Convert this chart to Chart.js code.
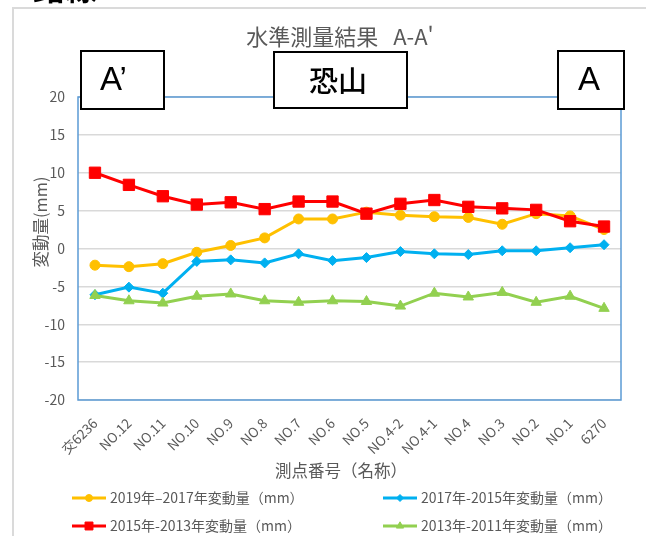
<!DOCTYPE html>
<html lang="ja">
<head>
<meta charset="UTF-8">
<title>水準測量結果 A-A'</title>
<script src="https://cdn.jsdelivr.net/npm/chart.js"></script>
<style>
  body { margin: 0; background: #fff; }
  #wrap { position: relative; width: 646px; height: 536px; overflow: hidden; }
  #frame { position: absolute; left: 12px; top: 7px; width: 700px; height: 600px; border: 2px solid #dadada; }
  #box { position: absolute; left: 0; top: 0; width: 646px; height: 536px; }
</style>
</head>
<body>
<div id="wrap">
  <div id="frame"></div>
  <div id="box"><canvas id="chart"></canvas></div>
</div>
<script>
// 測点 (A' → A)
const stations = ['交6236', 'NO.12', 'NO.11', 'NO.10', 'NO.9', 'NO.8', 'NO.7', 'NO.6',
  'NO.5', 'NO.4-2', 'NO.4-1', 'NO.4', 'NO.3', 'NO.2', 'NO.1', '6270'];

// 変動量 (mm)
const diff2019_2017 = [-2.2, -2.4, -2.0, -0.5, 0.4, 1.4, 3.9, 3.9, 4.8, 4.4, 4.2, 4.1, 3.2, 4.6, 4.3, 2.5];
const diff2017_2015 = [-6.1, -5.1, -5.9, -1.7, -1.5, -1.9, -0.7, -1.6, -1.2, -0.4, -0.7, -0.8, -0.3, -0.3, 0.1, 0.5];
const diff2015_2013 = [10.0, 8.4, 6.9, 5.8, 6.1, 5.2, 6.2, 6.2, 4.6, 5.9, 6.4, 5.5, 5.3, 5.1, 3.6, 2.9];
const diff2013_2011 = [-6.2, -6.9, -7.2, -6.3, -6.0, -6.9, -7.1, -6.9, -7.0, -7.6, -5.9, -6.4, -5.8, -7.1, -6.3, -7.9];

const seriesNames = [
  '2019年–2017年変動量（mm）',
  '2017年-2015年変動量（mm）',
  '2015年-2013年変動量（mm）',
  '2013年-2011年変動量（mm）'
];

const yMin = -20, yMax = 20, yStep = 5;

const chartTitle = '水準測量結果   A-A\'';
const xTitle = '測点番号（名称）';
const yTitle = '変動量(mm)';
const headText = '路線';
const placeBoxes = [
  { text: 'A’', x: 81, y: 51, w: 83, h: 58, tx: 100, font: '33px "Liberation Sans"' },
  { text: '恐山', x: 274, y: 52, w: 133, h: 56, tx: 309, font: '500 29px "Noto Sans CJK JP"' },
  { text: 'A', x: 558, y: 51, w: 66, h: 58, tx: 578, font: '33px "Liberation Sans"' }
];

const CJK = '"Noto Sans CJK JP", sans-serif';
const GREY = '#595959';

function series(label, data, color, style, radius, order) {
  return {
    label, data, order,
    borderColor: color,
    backgroundColor: color,
    borderWidth: 3,
    tension: 0,
    pointStyle: style,
    pointRadius: radius,
    pointHoverRadius: radius,
    pointBorderWidth: 1,
    pointBackgroundColor: color,
    pointBorderColor: color
  };
}

// titles, legend and the place-name boxes
const decor = {
  id: 'decor',
  beforeDatasetsDraw(chart) {
    const { ctx, chartArea: a } = chart;
    ctx.save();
    ctx.strokeStyle = '#5B9BD5';
    ctx.lineWidth = 1.5;
    ctx.strokeRect(a.left, a.top, a.right - a.left, a.bottom - a.top);
    ctx.restore();
  },
  afterDraw(chart) {
    const { ctx } = chart;
    ctx.save();

    ctx.fillStyle = '#000';
    ctx.font = 'bold 32px ' + CJK;
    ctx.textBaseline = 'alphabetic';
    ctx.textAlign = 'left';
    ctx.fillText(headText, 33, 0);

    ctx.fillStyle = GREY;
    ctx.font = '22px ' + CJK;
    ctx.textAlign = 'center';
    ctx.textBaseline = 'middle';
    ctx.fillText(chartTitle, 340, 37);

    ctx.font = '16.5px ' + CJK;
    ctx.fillText(xTitle, 341, 471);

    ctx.save();
    ctx.translate(41, 222);
    ctx.rotate(-Math.PI / 2);
    ctx.fillText(yTitle, 0, 0);
    ctx.restore();

    // legend, two columns
    const cols = [72, 383], rows = [498, 526];
    chart.data.datasets.forEach((ds, i) => {
      const x = cols[i % 2], y = rows[Math.floor(i / 2)];
      ctx.strokeStyle = ds.borderColor;
      ctx.fillStyle = ds.borderColor;
      ctx.lineWidth = 3;
      ctx.beginPath();
      ctx.moveTo(x, y);
      ctx.lineTo(x + 34, y);
      ctx.stroke();
      ctx.lineWidth = 1;
      Chart.helpers.drawPoint(ctx, { pointStyle: ds.pointStyle, radius: ds.pointRadius * 0.7, rotation: 0, borderWidth: 1 }, x + 17, y);
      ctx.fillStyle = GREY;
      ctx.font = '14px ' + CJK;
      ctx.textAlign = 'left';
      ctx.textBaseline = 'middle';
      ctx.fillText(ds.label, x + 38, y);
    });

    placeBoxes.forEach(b => {
      ctx.fillStyle = '#fff';
      ctx.fillRect(b.x, b.y, b.w, b.h);
      ctx.strokeStyle = '#000';
      ctx.lineWidth = 2;
      ctx.strokeRect(b.x, b.y, b.w, b.h);
      ctx.fillStyle = '#000';
      ctx.font = b.font;
      ctx.textAlign = 'left';
      ctx.textBaseline = 'middle';
      ctx.fillText(b.text, b.tx, b.y + b.h / 2 + 1);
    });

    ctx.restore();
  }
};

new Chart(document.getElementById('chart'), {
  type: 'line',
  data: {
    labels: stations,
    datasets: [
      series(seriesNames[0], diff2019_2017, '#FFC000', 'circle', 5, 4),
      series(seriesNames[1], diff2017_2015, '#00B0F0', 'rectRot', 5, 3),
      series(seriesNames[2], diff2015_2013, '#FF0000', 'rect', 8, 2),
      series(seriesNames[3], diff2013_2011, '#92D050', 'triangle', 6, 1)
    ]
  },
  options: {
    responsive: true,
    maintainAspectRatio: false,
    animation: false,
    layout: { padding: { left: 0, right: 25, top: 97, bottom: 0 } },
    plugins: {
      legend: { display: false },
      title: { display: false },
      tooltip: { enabled: false }
    },
    scales: {
      x: {
        offset: true,
        grid: { display: false, drawTicks: false },
        border: { display: false },
        ticks: {
          autoSkip: false,
          maxRotation: 45,
          minRotation: 45,
          padding: 15,
          color: GREY,
          font: { family: CJK, size: 13.5 }
        },
        afterFit: s => { s.height = 136; }
      },
      y: {
        min: yMin,
        max: yMax,
        grid: { color: '#D9D9D9', lineWidth: 1.5, drawTicks: false },
        border: { display: false },
        ticks: {
          stepSize: yStep,
          padding: 13,
          color: GREY,
          font: { family: CJK, size: 14 }
        },
        afterFit: s => { s.width = 78; }
      }
    }
  },
  plugins: [decor]
});
</script>
</body>
</html>
